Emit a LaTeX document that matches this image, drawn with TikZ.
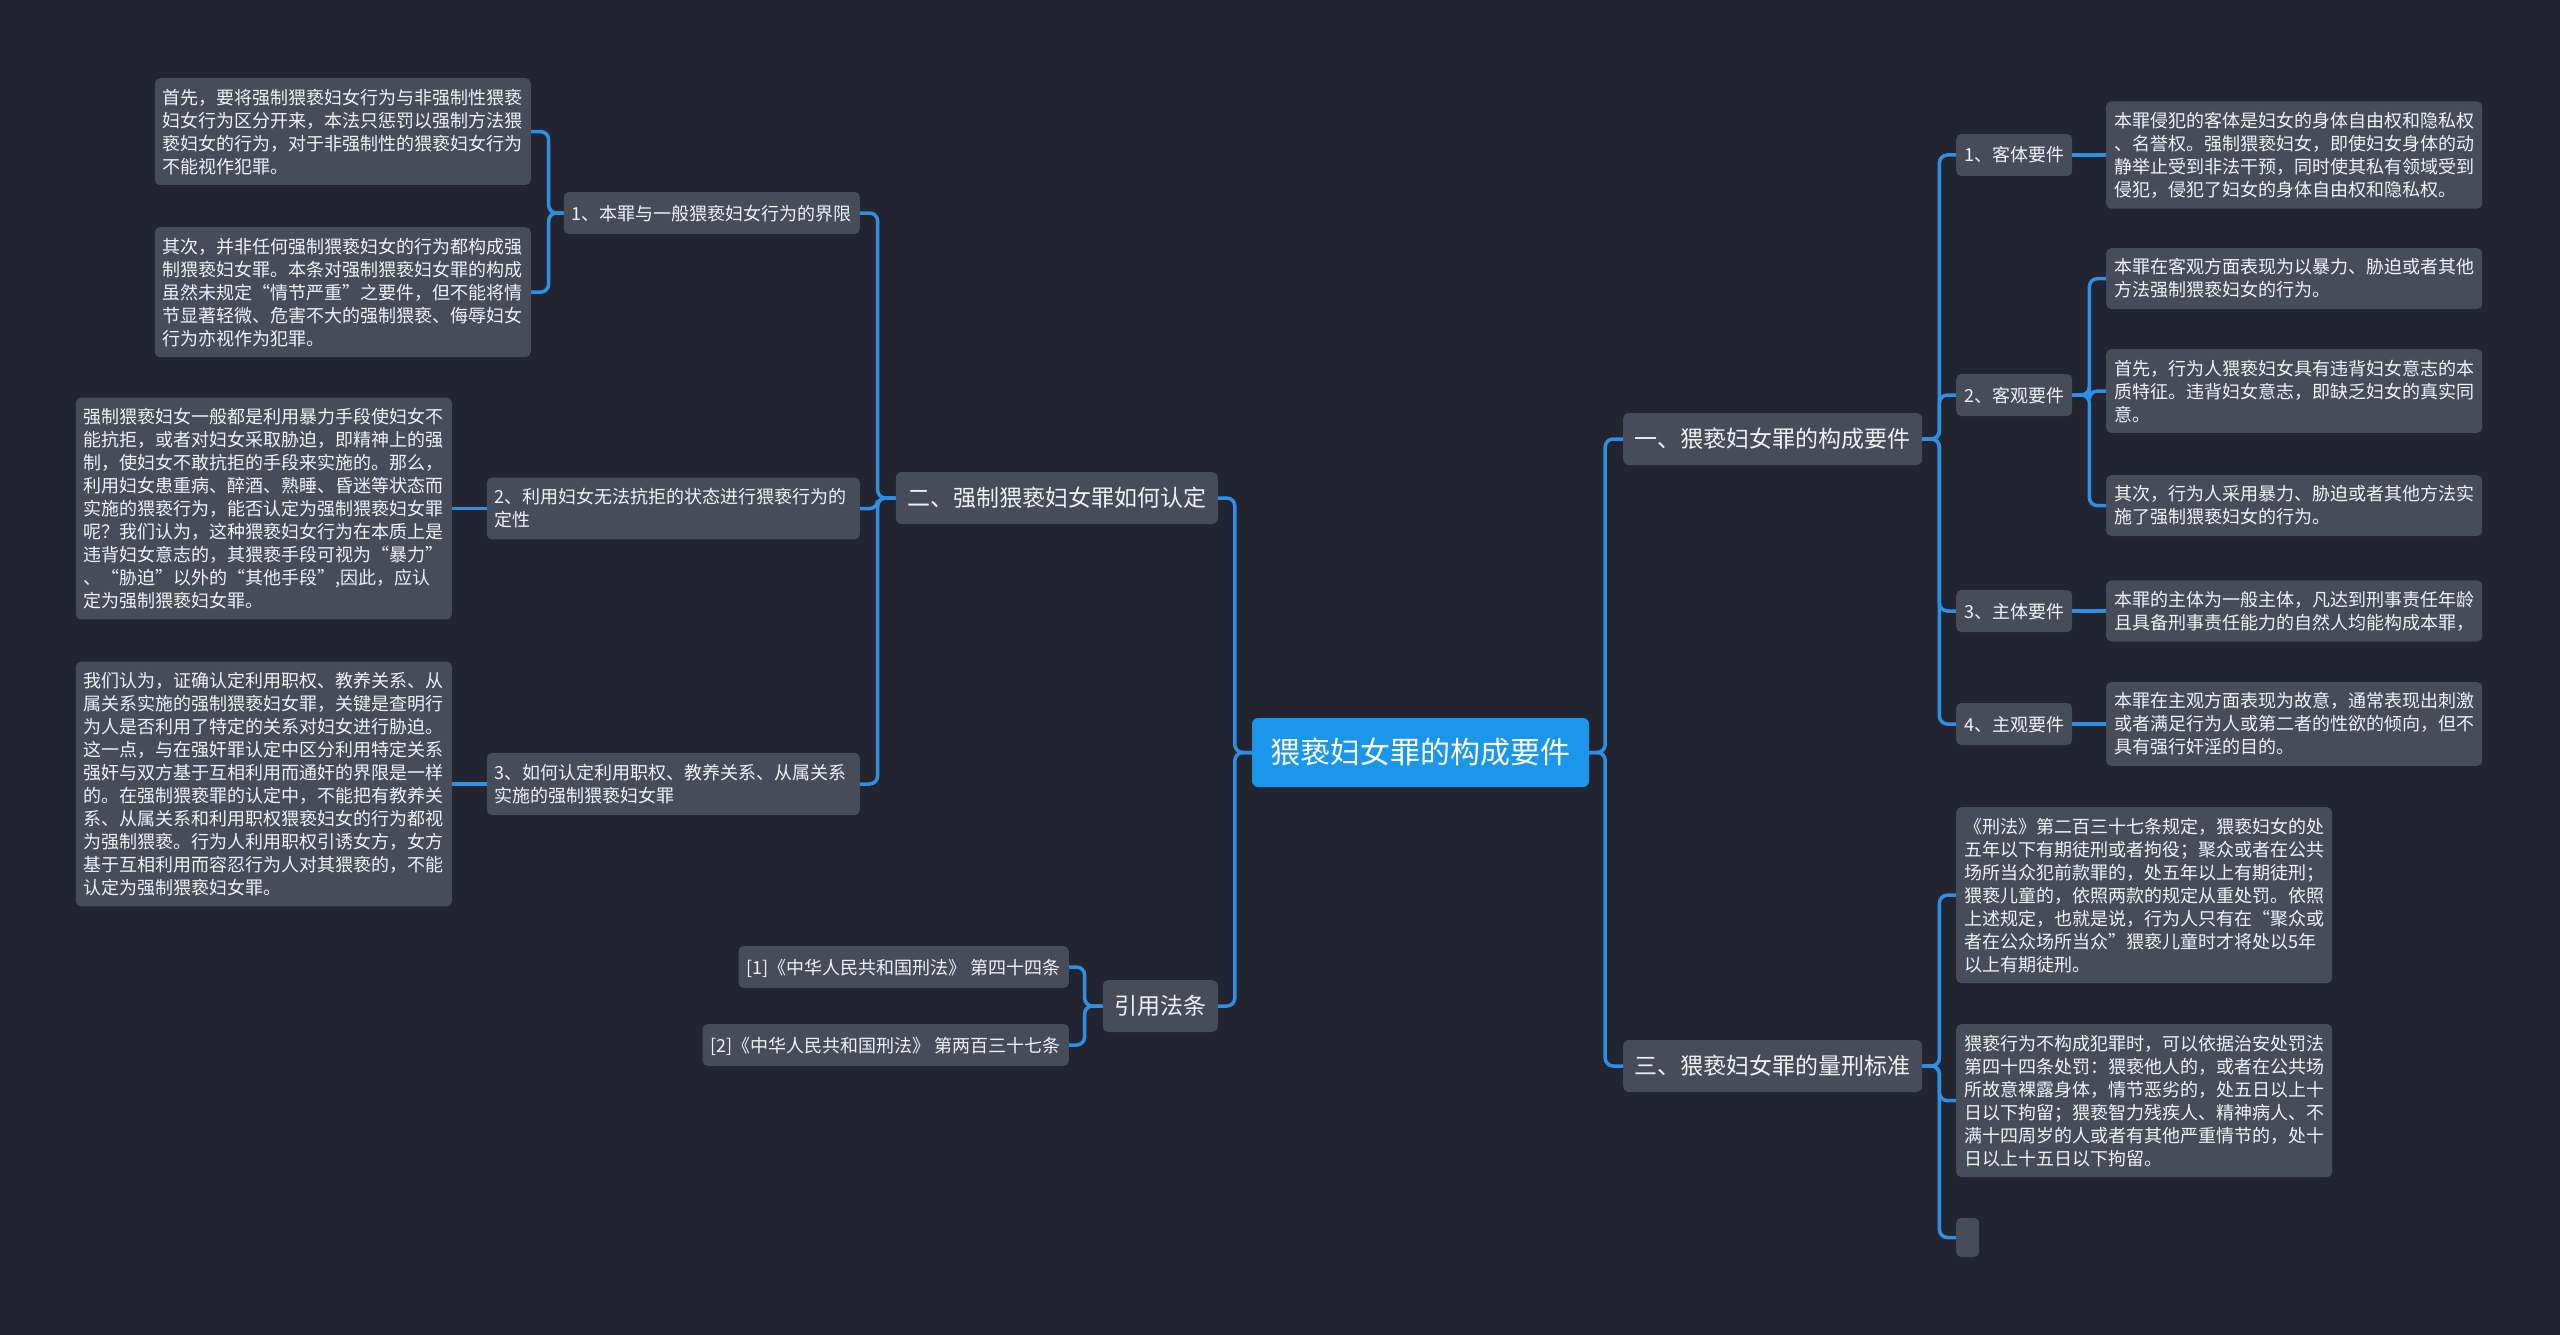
\documentclass[tikz,border=0pt]{standalone}
\usepackage{fontspec}
\setmainfont{Noto Sans CJK SC}
\definecolor{bgdark}{HTML}{22252F}
\definecolor{boxgray}{HTML}{474C5A}
\definecolor{rootblue}{HTML}{1A97EA}
\definecolor{linkblue}{HTML}{2D90E4}
\definecolor{textwhite}{HTML}{F0F2F5}
\tikzset{
  root box/.style={
    fill=rootblue,
    rounded corners=6pt,
    text=white,
    font=\fontsize{30}{36}\selectfont,
    inner xsep=18.5pt, inner ysep=19.5pt,
    text height=26.4pt, text depth=3.6pt
  },
  topic box/.style={
    fill=boxgray,
    rounded corners=6pt,
    text=textwhite,
    font=\fontsize{23}{28}\selectfont,
    inner xsep=11.5pt, inner ysep=14.5pt,
    text height=20pt, text depth=3pt
  },
  sub box/.style={
    fill=boxgray,
    rounded corners=5pt,
    text=textwhite,
    font=\fontsize{18}{23}\selectfont,
    inner xsep=8pt, inner ysep=12pt,
    text height=16pt, text depth=2pt
  },
  sub two/.style={
    fill=boxgray,
    rounded corners=5pt,
    text=textwhite,
    font=\fontsize{18}{23}\selectfont,
    inner xsep=8pt, inner ysep=11pt,
    text width=357pt, align=left
  },
  leaf box/.style={
    fill=boxgray,
    rounded corners=5pt,
    text=textwhite,
    font=\fontsize{18}{23}\selectfont,
    inner xsep=8pt, inner ysep=10.5pt,
    text width=360pt, align=left
  },
  link/.style={
    draw=linkblue,
    line width=3.5pt,
    rounded corners=8pt
  }
}

\begin{document}
\begin{tikzpicture}[x=1pt, y=-1pt]
    % 背景与画布大小
    \useasboundingbox (0,0) rectangle (2560,1335);
    \fill[bgdark] (0,0) rectangle (2560,1335);

    % 中心主题
    \node[root box] (zhu) at (1420.5,752.5) {猥亵妇女罪的构成要件};

    % 一级分支
    \node[topic box, anchor=west] (yi) at (1623,439) {一、猥亵妇女罪的构成要件};
    \node[topic box, anchor=west] (san) at (1623,1066) {三、猥亵妇女罪的量刑标准};
    \node[topic box, anchor=east] (er) at (1218,498) {二、强制猥亵妇女罪如何认定};
    \node[topic box, anchor=east] (yinyong) at (1218,1006) {引用法条};

    % 一：四个要件
    \node[sub box, anchor=west] (yi1) at (1956,155) {1、客体要件};
    \node[sub box, anchor=west] (yi2) at (1956,395) {2、客观要件};
    \node[sub box, anchor=west] (yi3) at (1956,611) {3、主体要件};
    \node[sub box, anchor=west] (yi4) at (1956,724) {4、主观要件};

    \node[leaf box, anchor=west] (yi1a) at (2106,155) {本罪侵犯的客体是妇女的身体自由权和隐私权\\、名誉权。强制猥亵妇女，即使妇女身体的动\\静举止受到非法干预，同时使其私有领域受到\\侵犯，侵犯了妇女的身体自由权和隐私权。};
    \node[leaf box, anchor=north west] (yi2a) at (2106,248) {本罪在客观方面表现为以暴力、胁迫或者其他\\方法强制猥亵妇女的行为。};
    \node[leaf box, anchor=north west] (yi2b) at (2106,349) {首先，行为人猥亵妇女具有违背妇女意志的本\\质特征。违背妇女意志，即缺乏妇女的真实同\\意。};
    \node[leaf box, anchor=north west] (yi2c) at (2106,475) {其次，行为人采用暴力、胁迫或者其他方法实\\施了强制猥亵妇女的行为。};
    \node[leaf box, anchor=west] (yi3a) at (2106,611) {本罪的主体为一般主体，凡达到刑事责任年龄\\且具备刑事责任能力的自然人均能构成本罪，};
    \node[leaf box, anchor=west] (yi4a) at (2106,724) {本罪在主观方面表现为故意，通常表现出刺激\\或者满足行为人或第二者的性欲的倾向，但不\\具有强行奸淫的目的。};

    % 三：量刑
    \node[leaf box, anchor=north west] (san1) at (1956,807) {《刑法》第二百三十七条规定，猥亵妇女的处\\五年以下有期徒刑或者拘役；聚众或者在公共\\场所当众犯前款罪的，处五年以上有期徒刑；\\猥亵儿童的，依照两款的规定从重处罚。依照\\上述规定，也就是说，行为人只有在“聚众或\\者在公众场所当众”猥亵儿童时才将处以5年\\以上有期徒刑。};
    \node[leaf box, anchor=north west] (san2) at (1956,1024) {猥亵行为不构成犯罪时，可以依据治安处罚法\\第四十四条处罚：猥亵他人的，或者在公共场\\所故意裸露身体，情节恶劣的，处五日以上十\\日以下拘留；猥亵智力残疾人、精神病人、不\\满十四周岁的人或者有其他严重情节的，处十\\日以上十五日以下拘留。};
    \node[fill=boxgray, rounded corners=5pt, minimum width=23pt, minimum height=39pt, inner sep=0pt, anchor=west] (san3) at (1956,1237.5) {};

    % 二：如何认定
    \node[sub box, anchor=east] (er1) at (860,213) {1、本罪与一般猥亵妇女行为的界限};
    \node[sub two, anchor=east] (er2) at (860,508.5) {2、利用妇女无法抗拒的状态进行猥亵行为的\\定性};
    \node[sub two, anchor=east] (er3) at (860,784) {3、如何认定利用职权、教养关系、从属关系\\实施的强制猥亵妇女罪};

    \node[leaf box, anchor=north east] (er1a) at (531,78) {首先，要将强制猥亵妇女行为与非强制性猥亵\\妇女行为区分开来，本法只惩罚以强制方法猥\\亵妇女的行为，对于非强制性的猥亵妇女行为\\不能视作犯罪。};
    \node[leaf box, anchor=north east] (er1b) at (531,227) {其次，并非任何强制猥亵妇女的行为都构成强\\制猥亵妇女罪。本条对强制猥亵妇女罪的构成\\虽然未规定“情节严重”之要件，但不能将情\\节显著轻微、危害不大的强制猥亵、侮辱妇女\\行为亦视作为犯罪。};
    \node[leaf box, anchor=east] (er2a) at (452,508.5) {强制猥亵妇女一般都是利用暴力手段使妇女不\\能抗拒，或者对妇女采取胁迫，即精神上的强\\制，使妇女不敢抗拒的手段来实施的。那么，\\利用妇女患重病、醉酒、熟睡、昏迷等状态而\\实施的猥亵行为，能否认定为强制猥亵妇女罪\\呢？我们认为，这种猥亵妇女行为在本质上是\\违背妇女意志的，其猥亵手段可视为“暴力”\\、“胁迫”以外的“其他手段”,因此，应认\\定为强制猥亵妇女罪。};
    \node[leaf box, anchor=east] (er3a) at (452,784) {我们认为，证确认定利用职权、教养关系、从\\属关系实施的强制猥亵妇女罪，关键是查明行\\为人是否利用了特定的关系对妇女进行胁迫。\\这一点，与在强奸罪认定中区分利用特定关系\\强奸与双方基于互相利用而通奸的界限是一样\\的。在强制猥亵罪的认定中，不能把有教养关\\系、从属关系和利用职权猥亵妇女的行为都视\\为强制猥亵。行为人利用职权引诱女方，女方\\基于互相利用而容忍行为人对其猥亵的，不能\\认定为强制猥亵妇女罪。};

    % 引用法条
    \node[sub box, anchor=east] (ref1) at (1069,967) {[1]《中华人民共和国刑法》 第四十四条};
    \node[sub box, anchor=east] (ref2) at (1069,1045) {[2]《中华人民共和国刑法》 第两百三十七条};

    % 连线
    \foreach \t in {yi,san} \draw[link] (zhu.east) -- ++(16,0) |- (\t.west);
    \foreach \t in {er,yinyong} \draw[link] (zhu.west) -- ++(-17,0) |- (\t.east);
    \foreach \s in {yi1,yi2,yi3,yi4} \draw[link] (yi.east) -- ++(17,0) |- (\s.west);
    \foreach \l in {yi2a,yi2b,yi2c} \draw[link] (yi2.east) -- ++(17,0) |- (\l.west);
    \foreach \s/\l in {yi1/yi1a,yi3/yi3a,yi4/yi4a} \draw[link] (\s.east) -- (\l.west);
    \foreach \l in {san1,san2,san3} \draw[link] (san.east) -- ++(17,0) |- (\l.west);
    \foreach \s in {er1,er2,er3} \draw[link] (er.west) -- ++(-18,0) |- (\s.east);
    \foreach \l in {er1a,er1b} \draw[link] (er1.west) -- ++(-15,0) |- (\l.east);
    \foreach \s/\l in {er2/er2a,er3/er3a} \draw[link] (\s.west) -- (\l.east);
    \foreach \r in {ref1,ref2} \draw[link] (yinyong.west) -- ++(-18,0) |- (\r.east);

\end{tikzpicture}
\end{document}
